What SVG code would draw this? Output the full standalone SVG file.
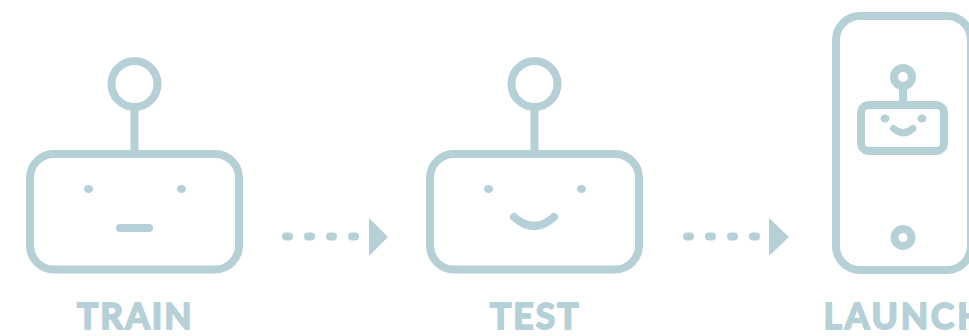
<svg xmlns="http://www.w3.org/2000/svg" width="969" height="336" viewBox="0 0 969 336">
<style>
.s{fill:none;stroke:#b5d0d7;stroke-width:8;stroke-linecap:round}
.f{fill:#b5d0d7}
.t{fill:#b5d0d7;stroke:#b5d0d7;stroke-width:1.800;stroke-linejoin:round;font-family:Lato,"Liberation Sans",sans-serif;font-weight:700;font-size:35.500px;letter-spacing:2px}
</style>
<rect width="969" height="336" fill="#fff"/>
<g id="train">
<circle class="s" cx="134.500" cy="84" r="23"/>
<path class="s" style="stroke-linecap:butt" d="M134.500 107V154"/>
<rect class="s" x="30" y="154" width="209" height="115.500" rx="24"/>
<ellipse class="f" cx="88.500" cy="189" rx="4.500" ry="4"/>
<ellipse class="f" cx="181.500" cy="189" rx="4.500" ry="4"/>
<path class="s" d="M120 228H149"/>
<text class="t" x="77" y="328.500">TRAIN</text>
</g>
<g id="test">
<circle class="s" cx="534.500" cy="84" r="23"/>
<path class="s" style="stroke-linecap:butt" d="M534.500 107V154"/>
<rect class="s" x="430" y="154" width="209" height="115.500" rx="24"/>
<ellipse class="f" cx="488.500" cy="189" rx="4.500" ry="4"/>
<ellipse class="f" cx="581.500" cy="189" rx="4.500" ry="4"/>
<path class="s" d="M514 217Q534 235 554 217"/>
<text class="t" x="490" y="328.500">TEST</text>
</g>
<g id="launch">
<rect class="s" x="836" y="16" width="135" height="254" rx="24"/>
<circle class="s" cx="903" cy="77" r="9"/>
<path class="s" style="stroke-linecap:butt" d="M903 86V105"/>
<rect class="s" x="861" y="105" width="83" height="46" rx="8"/>
<ellipse class="f" cx="885" cy="118.500" rx="4.500" ry="4"/>
<ellipse class="f" cx="922" cy="118.500" rx="4.500" ry="4"/>
<path class="s" style="stroke-width:7" d="M893.500 128.500Q903 137 913 128.500"/>
<circle class="s" cx="903" cy="237.500" r="8.500"/>
<text class="t" x="823.500" y="328.500" style="letter-spacing:2.800px">LAUNCH</text>
</g>
<g id="connectors">
<g class="f">
<rect x="282" y="232.500" width="11" height="8" rx="4"/>
<rect x="304" y="232.500" width="11" height="8" rx="4"/>
<rect x="326" y="232.500" width="11" height="8" rx="4"/>
<rect x="348" y="232.500" width="11" height="8" rx="4"/>
<path d="M369 218L388 237L369 256Z"/>
<rect x="683" y="232.500" width="11" height="8" rx="4"/>
<rect x="705" y="232.500" width="11" height="8" rx="4"/>
<rect x="727" y="232.500" width="11" height="8" rx="4"/>
<rect x="749" y="232.500" width="11" height="8" rx="4"/>
<path d="M769 218L789 237L769 256Z"/>
</g>
</g>
</svg>
